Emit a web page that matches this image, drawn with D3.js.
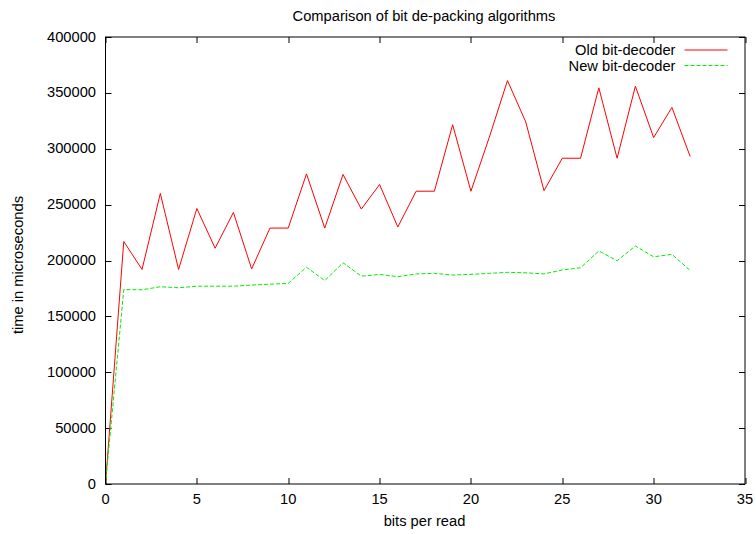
<!DOCTYPE html>
<html>
<head>
<meta charset="utf-8">
<script src="https://cdn.jsdelivr.net/npm/d3@7"></script>
<style>
  body { margin: 0; background: #fff; }
  svg text { font-family: "Liberation Sans", Arial, sans-serif; font-size: 14.7px; fill: #000; }
</style>
</head>
<body>
<svg id="chart" width="756" height="534"></svg>
<script>
// --- DATA ---
const bits = d3.range(0, 33);
const oldDecoder = [0, 217000, 192000, 260000, 192000, 246500, 211000, 243000, 192500, 229000,
  229000, 277500, 229000, 277000, 246000, 268000, 230000, 262000, 262000, 321500,
  262000, 310000, 361000, 324000, 262500, 291500, 291500, 354500, 291500, 356000,
  310000, 337000, 293000];
const newDecoder = [0, 174000, 173800, 176500, 175600, 177000, 177000, 177000, 178000, 178800,
  179500, 194000, 182000, 198000, 186000, 187500, 185500, 188000, 188500, 187000,
  187600, 188500, 189400, 189000, 188000, 191500, 193500, 208500, 199800, 213000,
  203300, 205500, 191000];
const xTicks = [0, 5, 10, 15, 20, 25, 30, 35];
const yTicks = [0, 50000, 100000, 150000, 200000, 250000, 300000, 350000, 400000];
const seriesNames = ["Old bit-decoder", "New bit-decoder"];

// --- SETUP ---
const margin = { top: 37, right: 11, bottom: 50, left: 105.5 };
const width = 756 - margin.left - margin.right;
const height = 534 - margin.top - margin.bottom;

const svg = d3.select("#chart");
const g = svg.append("g").attr("transform", `translate(${margin.left},${margin.top})`);

const x = d3.scaleLinear().domain([0, 35]).range([0, width]);
const y = d3.scaleLinear().domain([0, 400000]).range([height, 0]);

// ticks, mirrored on all four sides, pointing inward
const tickLen = 6;
const tickG = g.append("g").attr("stroke", "#000").attr("stroke-width", 1);
xTicks.forEach(t => {
  const px = Math.round(x(t)) + 0.5;
  tickG.append("line").attr("x1", px).attr("x2", px).attr("y1", height).attr("y2", height - tickLen);
  tickG.append("line").attr("x1", px).attr("x2", px).attr("y1", 0).attr("y2", tickLen);
  g.append("text").attr("x", x(t)).attr("y", height + 19.5)
    .attr("text-anchor", "middle").text(t);
});
yTicks.forEach(t => {
  const py = Math.round(y(t)) + 0.5;
  tickG.append("line").attr("x1", 0).attr("x2", tickLen).attr("y1", py).attr("y2", py);
  tickG.append("line").attr("x1", width).attr("x2", width - tickLen).attr("y1", py).attr("y2", py);
  g.append("text").attr("x", -9.5).attr("y", y(t) + 4.5)
    .attr("text-anchor", "end").text(t);
});

// series
const line = d3.line().x((d, i) => x(bits[i])).y(d => y(d));
g.append("path").datum(oldDecoder)
  .attr("fill", "none").attr("stroke", "#ff0000").attr("stroke-width", 1)
  .attr("d", line);
g.append("path").datum(newDecoder)
  .attr("fill", "none").attr("stroke", "#00ee00").attr("stroke-width", 1)
  .attr("stroke-dasharray", "4,2")
  .attr("d", line);

// frame
g.append("rect").attr("x", 0).attr("y", 0).attr("width", width).attr("height", height)
  .attr("fill", "none").attr("stroke", "#000").attr("stroke-width", 1);

// legend
const legend = g.append("g");
[["#ff0000", null], ["#00ee00", "4,2"]].forEach((s, i) => {
  const ly = 13 + i * 15.5;
  legend.append("text").attr("x", 570).attr("y", ly + 5)
    .attr("text-anchor", "end").text(seriesNames[i]);
  legend.append("line").attr("x1", 579).attr("x2", 622).attr("y1", ly).attr("y2", ly)
    .attr("stroke", s[0]).attr("stroke-width", 1)
    .attr("stroke-dasharray", s[1]);
});

// title and axis labels
svg.append("text").attr("x", 424).attr("y", 20.5).attr("text-anchor", "middle")
  .text("Comparison of bit de-packing algorithms");
svg.append("text").attr("x", 424.5).attr("y", 526).attr("text-anchor", "middle")
  .text("bits per read");
svg.append("text").attr("transform", "translate(23,265) rotate(-90)")
  .attr("text-anchor", "middle").text("time in microseconds");
</script>
</body>
</html>
